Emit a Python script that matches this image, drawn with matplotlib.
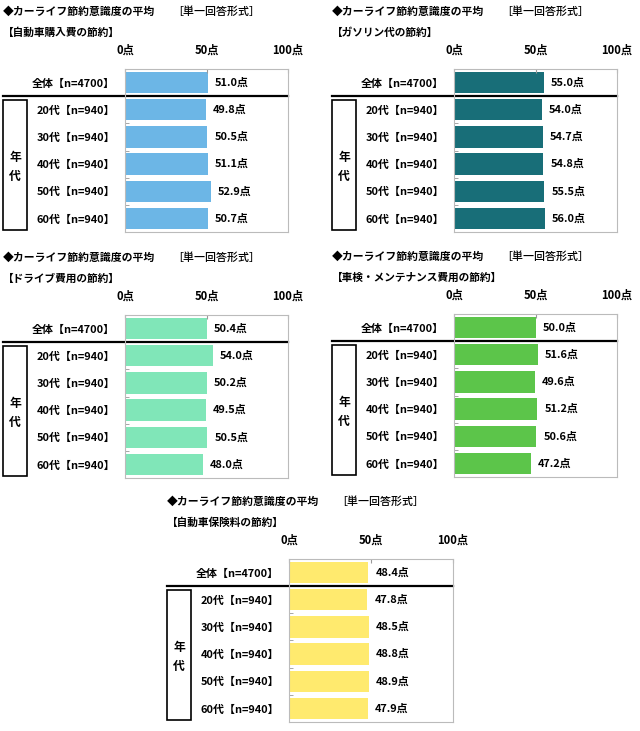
import matplotlib.pyplot as plt
from matplotlib.patches import Rectangle

plt.rcParams['font.family'] = ['Noto Sans CJK JP', 'DejaVu Sans']

# data
categories = ["全体【n=4700】", "20代【n=940】", "30代【n=940】",
              "40代【n=940】", "50代【n=940】", "60代【n=940】"]
purchase = [51.0, 49.8, 50.5, 51.1, 52.9, 50.7]
gasoline = [55.0, 54.0, 54.7, 54.8, 55.5, 56.0]
drive = [50.4, 54.0, 50.2, 49.5, 50.5, 48.0]
maintenance = [50.0, 51.6, 49.6, 51.2, 50.6, 47.2]
insurance = [48.4, 47.8, 48.5, 48.8, 48.9, 47.9]

title = "◆カーライフ節約意識度の平均"
answer_type = "［単一回答形式］"
subtitles = ["【自動車購入費の節約】", "【ガソリン代の節約】", "【ドライブ費用の節約】",
             "【車検・メンテナンス費用の節約】", "【自動車保険料の節約】"]
series = [purchase, gasoline, drive, maintenance, insurance]
colors = ["#6cb6e6", "#186e78", "#80e6b8", "#5cc54a", "#ffea6e"]

W, H = 640, 731
# plot box in pixels: left, top, right, bottom
boxes = [(125, 69, 288, 232), (454, 69, 617, 232), (125, 315, 288, 478),
         (454, 314, 617, 477), (289, 559, 453, 722)]

fig = plt.figure(figsize=(W / 100, H / 100), dpi=100)
fs = 7.9

for vals, sub, col, (l, t, r, b) in zip(series, subtitles, colors, boxes):
    bw = r - l
    ax = fig.add_axes([l / W, 1 - b / H, bw / W, (b - t) / H])
    y = list(range(len(vals)))
    ax.barh(y, vals, height=0.78, color=col)
    ax.set_xlim(0, 100)
    ax.set_ylim(len(vals) - 0.5, -0.5)

    for s in ax.spines.values():
        s.set_color("#bbbbbb")
        s.set_linewidth(0.8)

    ax.xaxis.tick_top()
    ax.set_xticks([0, 50, 100], ["0点", "50点", "100点"])
    ax.tick_params(axis="x", direction="in", length=3, color="#999999",
                   pad=9, labelsize=fs + 0.2)
    for lb in ax.get_xticklabels():
        lb.set_fontweight("bold")

    ax.set_yticks(y, categories)
    ax.set_yticks([1.5, 2.5, 3.5, 4.5], minor=True)
    ax.tick_params(axis="y", which="major", length=0, pad=7, labelsize=fs)
    ax.tick_params(axis="y", which="minor", direction="in", length=3,
                   color="#999999")
    for lb in ax.get_yticklabels():
        lb.set_fontweight("bold")

    for yi, v in zip(y, vals):
        ax.annotate(f"{v:.1f}点", (v, yi), xytext=(5, 0),
                    textcoords="offset points", ha="left", va="center",
                    fontsize=fs, fontweight="bold")

    # separator and 年代 box
    tr = ax.get_yaxis_transform()
    x0 = -122 / bw
    ax.plot([x0, 1], [0.5, 0.5], color="black", lw=1.6, transform=tr,
            clip_on=False)
    ax.add_patch(Rectangle((x0, 0.63), 24 / bw, 4.8, transform=tr,
                           fill=False, edgecolor="black", lw=1.2,
                           clip_on=False))
    xc = x0 + 12 / bw
    ax.text(xc, 2.75, "年", transform=tr, ha="center", va="center",
            fontsize=fs + 0.6, fontweight="bold")
    ax.text(xc, 3.47, "代", transform=tr, ha="center", va="center",
            fontsize=fs + 0.6, fontweight="bold")

    # titles
    tx = (l - 122) / W
    fig.text(tx, 1 - (t - 57) / H, title, ha="left", va="center",
             fontsize=fs - 0.1, fontweight="bold")
    fig.text(tx + 169 / W, 1 - (t - 57) / H, answer_type, ha="left",
             va="center", fontsize=fs, fontweight="medium")
    fig.text(tx, 1 - (t - 36) / H, sub, ha="left", va="center",
             fontsize=fs - 0.2, fontweight="bold")

fig.savefig("out.png", dpi=100)
